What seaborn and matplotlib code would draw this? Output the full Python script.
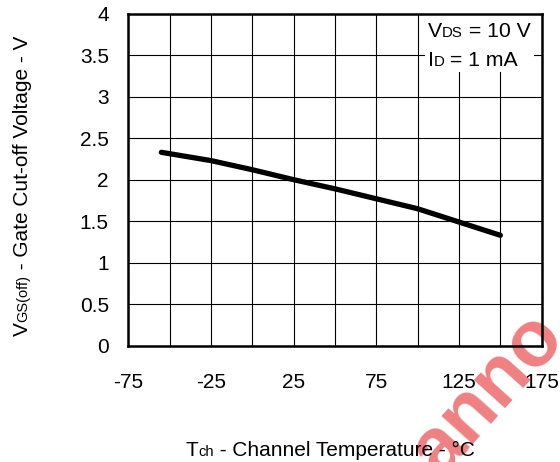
import numpy as np
import pandas as pd
import matplotlib
matplotlib.use("Agg")
import matplotlib.pyplot as plt
import seaborn as sns
from matplotlib.transforms import offset_copy
from matplotlib.patches import Rectangle

# ---- data ----
temperature = [-55, -25, 0, 25, 50, 75, 100, 125, 150]
vgs_off = [2.33, 2.23, 2.12, 2.00, 1.89, 1.77, 1.65, 1.49, 1.33]
x_tick_values = [-75, -25, 25, 75, 125, 175]
x_tick_labels = ["-75", "-25", "25", "75", "125", "175"]
x_minor_values = [-50, 0, 50, 100, 150]
y_tick_values = [0, 0.5, 1, 1.5, 2, 2.5, 3, 3.5, 4]
y_tick_labels = ["0", "0.5", "1", "1.5", "2", "2.5", "3", "3.5", "4"]

sns.set_theme(style="white")
plt.rcParams["font.family"] = ["Liberation Sans", "DejaVu Sans"]

W, H = 560, 462
fig = plt.figure(figsize=(W / 100, H / 100), dpi=100)
fig.patch.set_facecolor("white")
L, R, T, B = 128.3, 541.7, 13.7, 345.7
ax = fig.add_axes([L / W, 1 - B / H, (R - L) / W, (B - T) / H])
ax.patch.set_alpha(0)

df = pd.DataFrame({"Tch": temperature, "VGS": vgs_off})
sns.lineplot(data=df, x="Tch", y="VGS", ax=ax, color="black",
             linewidth=3.8, solid_capstyle="round", zorder=2)

ax.set_xlim(-75, 175)
ax.set_ylim(0, 4)
ax.set_xticks(x_tick_values)
ax.set_xticklabels(x_tick_labels)
ax.set_xticks(x_minor_values, minor=True)
ax.set_yticks(y_tick_values)
ax.set_yticklabels(y_tick_labels)
ax.grid(True, which="both", color="black", linewidth=0.8)
ax.tick_params(axis="both", which="both", length=0, labelsize=15, colors="black")
ax.tick_params(axis="x", pad=20)
ax.tick_params(axis="y", pad=14)
ax.set_xlabel("")
ax.set_ylabel("")
for s in ax.spines.values():
    s.set_visible(True)
    s.set_color("black")
    s.set_linewidth(1.8)

# white box behind conditions
ax.add_patch(Rectangle((104.2, 3.30), 66.4, 0.72, facecolor="white",
                       edgecolor="none", zorder=2.2))

renderer = fig.canvas.get_renderer()


def rich_text(x, y, parts, transform, rotation=0, center=False, zorder=3):
    texts, widths = [], []
    for s, fs in parts:
        t = fig.text(x, y, s, fontsize=fs, rotation=rotation, ha="left",
                     va="baseline", rotation_mode="anchor", transform=transform,
                     color="black", zorder=zorder)
        bb = t.get_window_extent(renderer)
        widths.append(bb.height if rotation == 90 else bb.width)
        texts.append(t)
    off = -sum(widths) / 2 if center else 0
    for t, w in zip(texts, widths):
        if rotation == 90:
            t.set_transform(offset_copy(transform, fig=fig, x=0, y=off, units="dots"))
        else:
            t.set_transform(offset_copy(transform, fig=fig, x=off, y=0, units="dots"))
        off += w
    return texts


BIG, SMALL = 15.3, 10.8
rich_text(106, 3.716, [("V", BIG), ("DS", SMALL), (" = 10 V", BIG)], ax.transData)
rich_text(106, 3.37, [("I", BIG), ("D", SMALL), (" = 1 mA", BIG)], ax.transData)

rich_text(330 / W, 1 - 455.5 / H,
          [("T", 15), ("ch", 10.5), (" - Channel Temperature - \u00b0C", 15)],
          fig.transFigure, center=True)
rich_text(27.5 / W, 1 - 186 / H,
          [("V", 15), ("GS(off)", 10.5), (" - Gate Cut-off Voltage - V", 15)],
          fig.transFigure, rotation=90, center=True)

# watermark (drawn beneath the axes content)
fig.text(440 / W, 1 - 478 / H, "anno", fontsize=57, fontweight="bold",
         color="#ee6a6c", alpha=0.85, rotation=48, rotation_mode="anchor",
         ha="left", va="baseline", zorder=-1)

fig.savefig("out.png", dpi=100, facecolor="white")
